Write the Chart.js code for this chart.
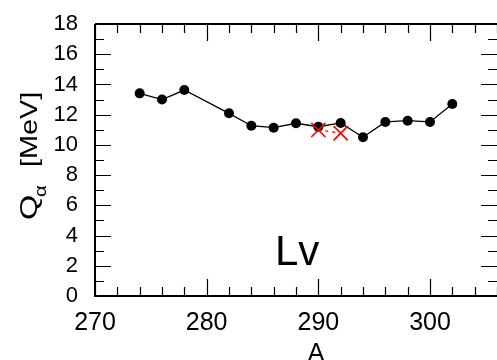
<!DOCTYPE html>
<html>
<head>
<meta charset="utf-8">
<script src="https://cdn.jsdelivr.net/npm/chart.js@4"></script>
<style>
  html, body { margin: 0; padding: 0; background: #fff; }
  #wrap { width: 497px; height: 360px; }
</style>
</head>
<body>
<div id="wrap"><canvas id="myChart" width="497" height="360"></canvas></div>
<script>
// calculated Q_alpha values for Lv isotopes
const massNumbers = [274, 276, 278, 282, 284, 286, 288, 290, 292, 294, 296, 298, 300, 302];
const qAlphaCalc = [13.41, 13.0, 13.63, 12.09, 11.27, 11.14, 11.43, 11.2, 11.45, 10.5, 11.52, 11.6, 11.52, 12.71];

// experimental values
const expMass = [290, 292];
const expQ = [10.99, 10.77];

const xTickLabels = [270, 280, 290, 300];
const yTickLabels = [0, 2, 4, 6, 8, 10, 12, 14, 16, 18];

const FONT = "'Liberation Sans', Arial, sans-serif";

const toPoints = (xs, ys) => xs.map((x, i) => ({ x: x, y: ys[i] }));

// frame, inward ticks and the extra text
const framePlugin = {
  id: "frame",
  afterDraw(chart) {
    const ctx = chart.ctx;
    const a = chart.chartArea;
    const xs = chart.scales.x;
    const ys = chart.scales.y;
    ctx.save();
    ctx.strokeStyle = "#000";
    ctx.lineWidth = 2;
    ctx.beginPath();
    ctx.moveTo(a.left, a.top);
    ctx.lineTo(a.right, a.top);
    ctx.moveTo(a.left, a.top);
    ctx.lineTo(a.left, a.bottom);
    ctx.lineTo(a.right, a.bottom);
    ctx.stroke();

    ctx.lineWidth = 1.2;
    ctx.beginPath();
    for (let v = xs.min; v <= xs.max; v += 2) {
      const px = Math.round(xs.getPixelForValue(v)) + 0.5;
      const len = v % 10 === 0 ? 17 : 9;
      ctx.moveTo(px, a.bottom);
      ctx.lineTo(px, a.bottom - len);
      ctx.moveTo(px, a.top);
      ctx.lineTo(px, a.top + len);
    }
    for (let v = ys.min; v <= ys.max; v += 1) {
      const py = Math.round(ys.getPixelForValue(v)) + 0.5;
      const len = v % 2 === 0 ? 16 : 9;
      ctx.moveTo(a.left, py);
      ctx.lineTo(a.left + len, py);
      ctx.moveTo(a.right, py);
      ctx.lineTo(a.right - len, py);
    }
    ctx.stroke();

    // "Lv" label
    ctx.fillStyle = "#000";
    ctx.font = "42px " + FONT;
    ctx.textAlign = "center";
    ctx.textBaseline = "alphabetic";
    ctx.fillText("Lv", xs.getPixelForValue(288.1), ys.getPixelForValue(2.05));

    // x title
    ctx.font = "25px " + FONT;
    ctx.fillText("A", xs.getPixelForValue(289.8), 361);

    // y title: Q_alpha [MeV], rotated
    ctx.translate(37, 220);
    ctx.rotate(-Math.PI / 2);
    ctx.textAlign = "left";
    const stretched = (text, x, y, size, sx) => {
      ctx.save();
      ctx.translate(x, y);
      ctx.scale(sx, 1);
      ctx.font = size + "px " + FONT;
      ctx.fillText(text, 0, 0);
      ctx.restore();
    };
    stretched("Q", 0, 0, 24, 1.35);
    stretched("\u03B1", 23, 9, 17, 1.2);
    stretched("[MeV]", 53, 0, 24, 1.2);
    ctx.restore();
  }
};

new Chart(document.getElementById("myChart").getContext("2d"), {
  type: "scatter",
  data: {
    datasets: [
      {
        label: "exp",
        data: toPoints(expMass, expQ),
        showLine: true,
        borderColor: "#ff0000",
        borderWidth: 1.3,
        borderDash: [3, 4],
        pointStyle: "crossRot",
        pointRadius: 10,
        pointBorderWidth: 1.6,
        pointBorderColor: "#ff0000",
        order: 0
      },
      {
        label: "calc",
        data: toPoints(massNumbers, qAlphaCalc),
        showLine: true,
        borderColor: "#000",
        borderWidth: 1.3,
        pointStyle: "circle",
        pointRadius: 5,
        pointBackgroundColor: "#000",
        pointBorderColor: "#000",
        pointBorderWidth: 0,
        order: 1
      }
    ]
  },
  options: {
    responsive: false,
    animation: false,
    layout: { autoPadding: false, padding: { top: 24, right: 0, left: 0, bottom: 0 } },
    plugins: {
      legend: { display: false },
      tooltip: { enabled: false }
    },
    scales: {
      x: {
        type: "linear",
        min: 270,
        max: 306,
        grid: { display: false, drawTicks: false },
        border: { display: false },
        afterBuildTicks: (scale) => { scale.ticks = xTickLabels.map((v) => ({ value: v })); },
        afterFit: (scale) => {
          scale.height = 64;
          scale.paddingLeft = 0;
          scale.paddingRight = 0;
        },
        ticks: {
          color: "#000",
          padding: 12,
          maxRotation: 0,
          autoSkip: false,
          font: { family: FONT, size: 25 }
        }
      },
      y: {
        type: "linear",
        min: 0,
        max: 18,
        grid: { display: false, drawTicks: false },
        border: { display: false },
        afterBuildTicks: (scale) => { scale.ticks = yTickLabels.map((v) => ({ value: v })); },
        afterFit: (scale) => {
          scale.width = 95;
          scale.paddingTop = 0;
          scale.paddingBottom = 0;
        },
        ticks: {
          color: "#000",
          padding: 17,
          autoSkip: false,
          font: { family: FONT, size: 22 }
        }
      }
    }
  },
  plugins: [framePlugin]
});
</script>
</body>
</html>
